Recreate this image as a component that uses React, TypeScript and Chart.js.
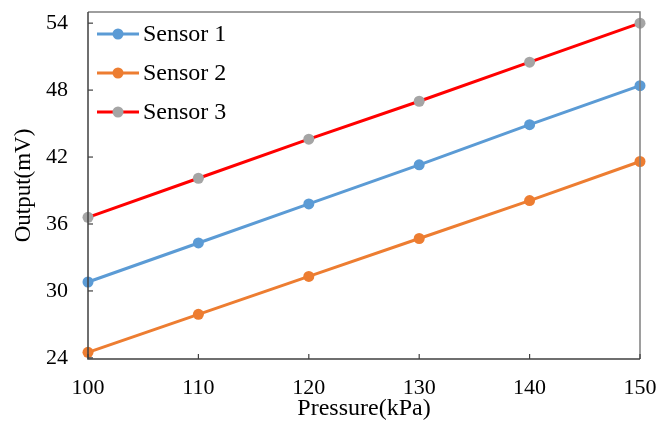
import React, { useEffect, useRef } from "react";
import { Chart, registerables } from "chart.js";

Chart.register(...registerables);

const pressures = [100, 110, 120, 130, 140, 150];
const sensor1 = [30.8, 34.3, 37.8, 41.3, 44.9, 48.4];
const sensor2 = [24.5, 27.9, 31.3, 34.7, 38.1, 41.6];
const sensor3 = [36.6, 40.1, 43.6, 47.0, 50.5, 54.0];
const yTicks = [24, 30, 36, 42, 48, 54];
const xTicks = [100, 110, 120, 130, 140, 150];
const seriesNames = ["Sensor 1", "Sensor 2", "Sensor 3"];
const lineColors = ["#5B9BD5", "#ED7D31", "#FF0000"];
const markerColors = ["#5B9BD5", "#ED7D31", "#A5A5A5"];

const FONT = "'Liberation Serif', 'Times New Roman', serif";

const framePlugin = {
  id: "frame",
  afterDatasetsDraw(chart: any) {
    const { ctx, chartArea: a, scales } = chart;
    ctx.save();
    ctx.strokeStyle = "#7F7F7F";
    ctx.lineWidth = 1.5;
    ctx.beginPath();
    ctx.moveTo(a.left, a.top);
    ctx.lineTo(a.right, a.top);
    ctx.lineTo(a.right, a.bottom);
    ctx.stroke();
    ctx.strokeStyle = "#404040";
    ctx.beginPath();
    ctx.moveTo(a.left, a.top);
    ctx.lineTo(a.left, a.bottom);
    ctx.lineTo(a.right, a.bottom);
    ctx.stroke();
    ctx.lineWidth = 1.2;
    yTicks.forEach((v) => {
      const y = scales.y.getPixelForValue(v);
      ctx.beginPath();
      ctx.moveTo(a.left, y);
      ctx.lineTo(a.left + 5, y);
      ctx.stroke();
    });
    xTicks.forEach((v) => {
      const x = scales.x.getPixelForValue(v);
      ctx.beginPath();
      ctx.moveTo(x, a.bottom);
      ctx.lineTo(x, a.bottom - 5);
      ctx.stroke();
    });
    ctx.restore();
  },
  afterDraw(chart: any) {
    const { ctx, chartArea: a } = chart;
    ctx.save();
    ctx.font = `24px ${FONT}`;
    ctx.textBaseline = "middle";
    ctx.textAlign = "left";
    const rowGap = 39;
    chart.data.datasets.forEach((ds: any, i: number) => {
      const y = a.top + 22 + i * rowGap;
      const x0 = a.left + 9;
      const x1 = x0 + 42;
      ctx.strokeStyle = ds.borderColor;
      ctx.lineWidth = 3;
      ctx.beginPath();
      ctx.moveTo(x0, y);
      ctx.lineTo(x1, y);
      ctx.stroke();
      ctx.fillStyle = ds.pointBackgroundColor;
      ctx.beginPath();
      ctx.arc((x0 + x1) / 2, y, 5.5, 0, Math.PI * 2);
      ctx.fill();
      ctx.fillStyle = "#000000";
      ctx.fillText(ds.label, x1 + 4, y + 1);
    });
    ctx.restore();
  },
};

export default function App() {
  const ref = useRef<HTMLCanvasElement>(null);
  useEffect(() => {
    if (!ref.current) return;
    const series = [sensor1, sensor2, sensor3];
    const chart = new Chart(ref.current, {
      type: "line",
      data: {
        datasets: series.map((s, i) => ({
          label: seriesNames[i],
          data: pressures.map((p, j) => ({ x: p, y: s[j] })),
          borderColor: lineColors[i],
          backgroundColor: markerColors[i],
          pointBackgroundColor: markerColors[i],
          pointBorderColor: markerColors[i],
          pointRadius: 5.5,
          pointBorderWidth: 0,
          borderWidth: 3,
          tension: 0,
          clip: false as any,
        })),
      },
      options: {
        responsive: false,
        animation: false,
        layout: { padding: { left: 0, top: 12, right: 18, bottom: 0 } },
        plugins: {
          legend: { display: false },
          tooltip: { enabled: false },
        },
        scales: {
          x: {
            type: "linear",
            min: 100,
            max: 150,
            afterBuildTicks: (s: any) => {
              s.ticks = xTicks.map((v) => ({ value: v }));
            },
            afterFit: (s: any) => {
              s.height = 64;
              s.paddingLeft = 0;
              s.paddingRight = 0;
            },
            grid: { display: false, drawTicks: false },
            border: { display: false },
            ticks: {
              padding: 16,
              color: "#000000",
              font: { family: FONT, size: 22 },
              maxRotation: 0,
            },
            title: {
              display: true,
              text: "Pressure(kPa)",
              color: "#000000",
              font: { family: FONT, size: 24 },
              padding: { top: 0, bottom: 0 },
            },
          },
          y: {
            type: "linear",
            min: 23.9,
            max: 55,
            afterBuildTicks: (s: any) => {
              s.ticks = yTicks.map((v) => ({ value: v }));
            },
            afterFit: (s: any) => {
              s.width = 88;
              s.paddingTop = 0;
              s.paddingBottom = 0;
            },
            grid: { display: false, drawTicks: false },
            border: { display: false },
            ticks: {
              padding: 20,
              color: "#000000",
              font: { family: FONT, size: 22 },
            },
            title: {
              display: true,
              text: "Output(mV)",
              color: "#000000",
              font: { family: FONT, size: 23 },
              padding: { top: 10, bottom: 0 },
            },
          },
        },
      },
      plugins: [framePlugin],
    });
    return () => chart.destroy();
  }, []);
  return (
    <div style={{ position: "absolute", left: 0, top: 0, width: 658, height: 423, background: "#fff" }}>
      <canvas ref={ref} width={658} height={423} style={{ display: "block" }} />
    </div>
  );
}
